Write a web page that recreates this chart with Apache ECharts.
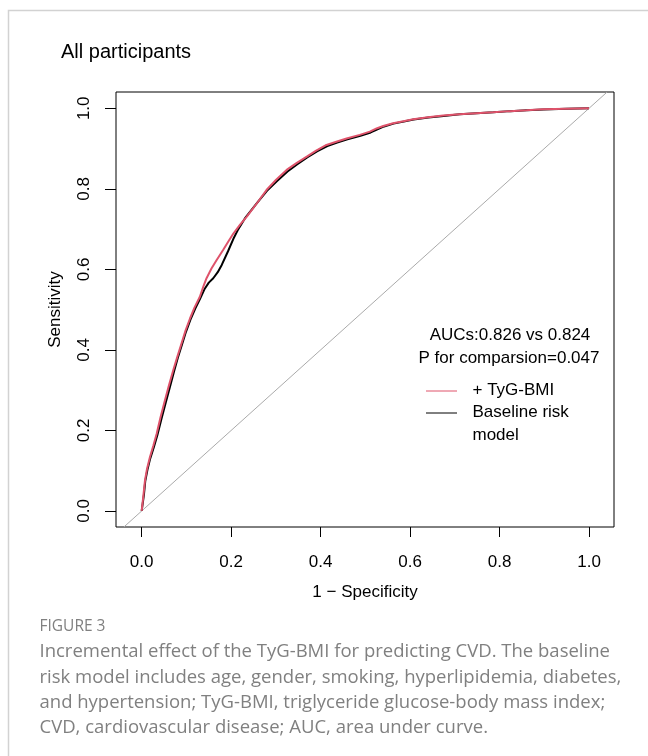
<!DOCTYPE html>
<html><head><meta charset="utf-8">
<script src="https://cdn.jsdelivr.net/npm/echarts@6/dist/echarts.min.js"></script>
<style>html,body{margin:0;padding:0;background:#fff}#c{width:648px;height:756px}</style>
</head><body><div id="c"></div>
<script>
// ROC data: x = 1 - Specificity, y = Sensitivity
const fprTyG = [0,0.004,0.0074,0.012,0.0185,0.026,0.0335,0.042,0.052,0.061,0.0707,0.080,0.089,0.098,0.108,0.118,0.130,0.138,0.145,0.156,0.168,0.182,0.193,0.205,0.220,0.235,0.260,0.279,0.300,0.324,0.346,0.369,0.390,0.413,0.435,0.458,0.4875,0.510,0.525,0.540,0.562,0.585,0.607,0.640,0.674,0.710,0.748,0.785,0.823,0.860,0.897,0.950,1.0];
const tprTyG = [0,0.040,0.076,0.105,0.134,0.162,0.192,0.232,0.275,0.312,0.350,0.384,0.416,0.448,0.478,0.505,0.532,0.558,0.578,0.602,0.624,0.648,0.668,0.689,0.711,0.731,0.768,0.797,0.822,0.847,0.864,0.880,0.895,0.909,0.917,0.925,0.934,0.942,0.950,0.956,0.963,0.968,0.973,0.978,0.982,0.985,0.988,0.990,0.993,0.995,0.9975,0.999,1.0];
const fprBase = [0,0.005,0.008,0.013,0.019,0.027,0.035,0.044,0.054,0.063,0.072,0.081,0.090,0.099,0.109,0.120,0.131,0.141,0.150,0.160,0.170,0.179,0.193,0.205,0.216,0.231,0.258,0.280,0.302,0.326,0.348,0.370,0.392,0.415,0.437,0.460,0.489,0.512,0.527,0.542,0.563,0.586,0.608,0.641,0.675,0.711,0.749,0.786,0.824,0.861,0.898,0.950,1.0];
const tprBase = [0,0.040,0.074,0.103,0.130,0.158,0.188,0.228,0.270,0.307,0.345,0.381,0.413,0.445,0.475,0.503,0.528,0.552,0.567,0.578,0.593,0.611,0.645,0.676,0.700,0.727,0.765,0.795,0.819,0.843,0.861,0.878,0.893,0.906,0.915,0.923,0.932,0.940,0.948,0.955,0.962,0.967,0.972,0.977,0.981,0.985,0.988,0.990,0.993,0.995,0.997,0.999,1.0];
const diagX = [-0.04, 1.04];
const diagY = [-0.04, 1.04];
const tickValues = [0, 0.2, 0.4, 0.6, 0.8, 1.0];
const seriesNames = ['+ TyG-BMI', 'Baseline risk model'];
const titleText = 'All participants';
const xName = '1 \u2212 Specificity';
const yName = 'Sensitivity';
const aucText = 'AUCs:0.826 vs 0.824';
const pText = 'P for comparsion=0.047';
const captionHead = 'FIGURE 3';
const captionLines = [
 'Incremental effect of the TyG-BMI for predicting CVD. The baseline',
 'risk model includes age, gender, smoking, hyperlipidemia, diabetes,',
 'and hypertension; TyG-BMI, triglyceride glucose-body mass index;',
 'CVD, cardiovascular disease; AUC, area under curve.'
];

const zip = (a, b) => a.map((v, i) => [v, b[i]]);
const FF = '"Liberation Sans", Arial, sans-serif';
const CF = '"Open Sans", "Noto Sans", sans-serif';
const PINK = '#DF536B';

const chart = echarts.init(document.getElementById('c'), null, {renderer: 'canvas'});
const graphic = [
  {type: 'polyline', shape: {points: [[648, 10.5], [8.5, 10.5], [8.5, 756]]}, style: {stroke: '#d2d2d2', lineWidth: 1.5, fill: null}, silent: true},
  {type: 'text', x: 61, y: 52.5, style: {text: titleText, font: '20px ' + FF, fill: '#000', verticalAlign: 'middle', align: 'left'}},
  {type: 'text', x: 365, y: 592, style: {text: xName, font: '17px ' + FF, fill: '#000', verticalAlign: 'middle', align: 'center'}},
  {type: 'text', x: 55, y: 309.5, rotation: Math.PI / 2, style: {text: yName, font: '17px ' + FF, fill: '#000', verticalAlign: 'middle', align: 'center'}},
  {type: 'text', x: 510, y: 335, style: {text: aucText, font: '17px ' + FF, fill: '#000', verticalAlign: 'middle', align: 'center'}},
  {type: 'text', x: 509, y: 358.5, style: {text: pText, font: '17px ' + FF, fill: '#000', verticalAlign: 'middle', align: 'center'}},
  {type: 'line', shape: {x1: 426, y1: 391, x2: 457, y2: 391}, style: {stroke: PINK, lineWidth: 1}},
  {type: 'line', shape: {x1: 426, y1: 413, x2: 457, y2: 413}, style: {stroke: '#000', lineWidth: 1}},
  {type: 'text', x: 472.5, y: 390.5, style: {text: seriesNames[0], font: '17px ' + FF, fill: '#000', verticalAlign: 'middle', align: 'left'}},
  {type: 'text', x: 472.5, y: 412.5, style: {text: 'Baseline risk', font: '17px ' + FF, fill: '#000', verticalAlign: 'middle', align: 'left'}},
  {type: 'text', x: 472.5, y: 435, style: {text: 'model', font: '17px ' + FF, fill: '#000', verticalAlign: 'middle', align: 'left'}},
  {type: 'text', x: 39.5, y: 627, style: {text: captionHead, font: '500 15.5px ' + CF, fill: '#808080', verticalAlign: 'middle', align: 'left'}}
];
captionLines.forEach((t, i) => {
  graphic.push({type: 'text', x: 39.5, y: 652 + i * 25.3, style: {text: t, font: '18.5px ' + CF, fill: '#808080', verticalAlign: 'middle', align: 'left'}});
});

chart.setOption({
  animation: false,
  backgroundColor: '#fff',
  grid: {left: 116, top: 92, width: 498, height: 435, show: true, borderColor: '#000', borderWidth: 1, backgroundColor: 'transparent'},
  xAxis: {
    type: 'value', min: -0.0574, max: 1.0558,
    splitLine: {show: false},
    axisLine: {show: false, onZero: false},
    axisTick: {show: true, inside: false, length: 10, lineStyle: {color: '#000', width: 1}, customValues: tickValues},
    axisLabel: {customValues: tickValues, formatter: v => v.toFixed(1), fontSize: 17, fontFamily: FF, color: '#000', margin: 27}
  },
  yAxis: {
    type: 'value', min: -0.0398, max: 1.0405,
    splitLine: {show: false},
    axisLine: {show: false, onZero: false},
    axisTick: {show: true, inside: false, length: 11, lineStyle: {color: '#000', width: 1}, customValues: tickValues},
    axisLabel: {customValues: tickValues, formatter: v => v.toFixed(1), fontSize: 17, fontFamily: FF, color: '#000', margin: 23, rotate: 90}
  },
  series: [
    {type: 'line', name: 'diag', data: zip(diagX, diagY), showSymbol: false, silent: true, clip: true, lineStyle: {color: '#aaaaaa', width: 1}, z: 1},
    {type: 'line', name: seriesNames[1], data: zip(fprBase, tprBase), showSymbol: false, silent: true, clip: true, lineStyle: {color: '#000', width: 2}, z: 2},
    {type: 'line', name: seriesNames[0], data: zip(fprTyG, tprTyG), showSymbol: false, silent: true, clip: true, lineStyle: {color: PINK, width: 2}, z: 3}
  ],
  graphic: graphic
});
</script>
</body></html>
